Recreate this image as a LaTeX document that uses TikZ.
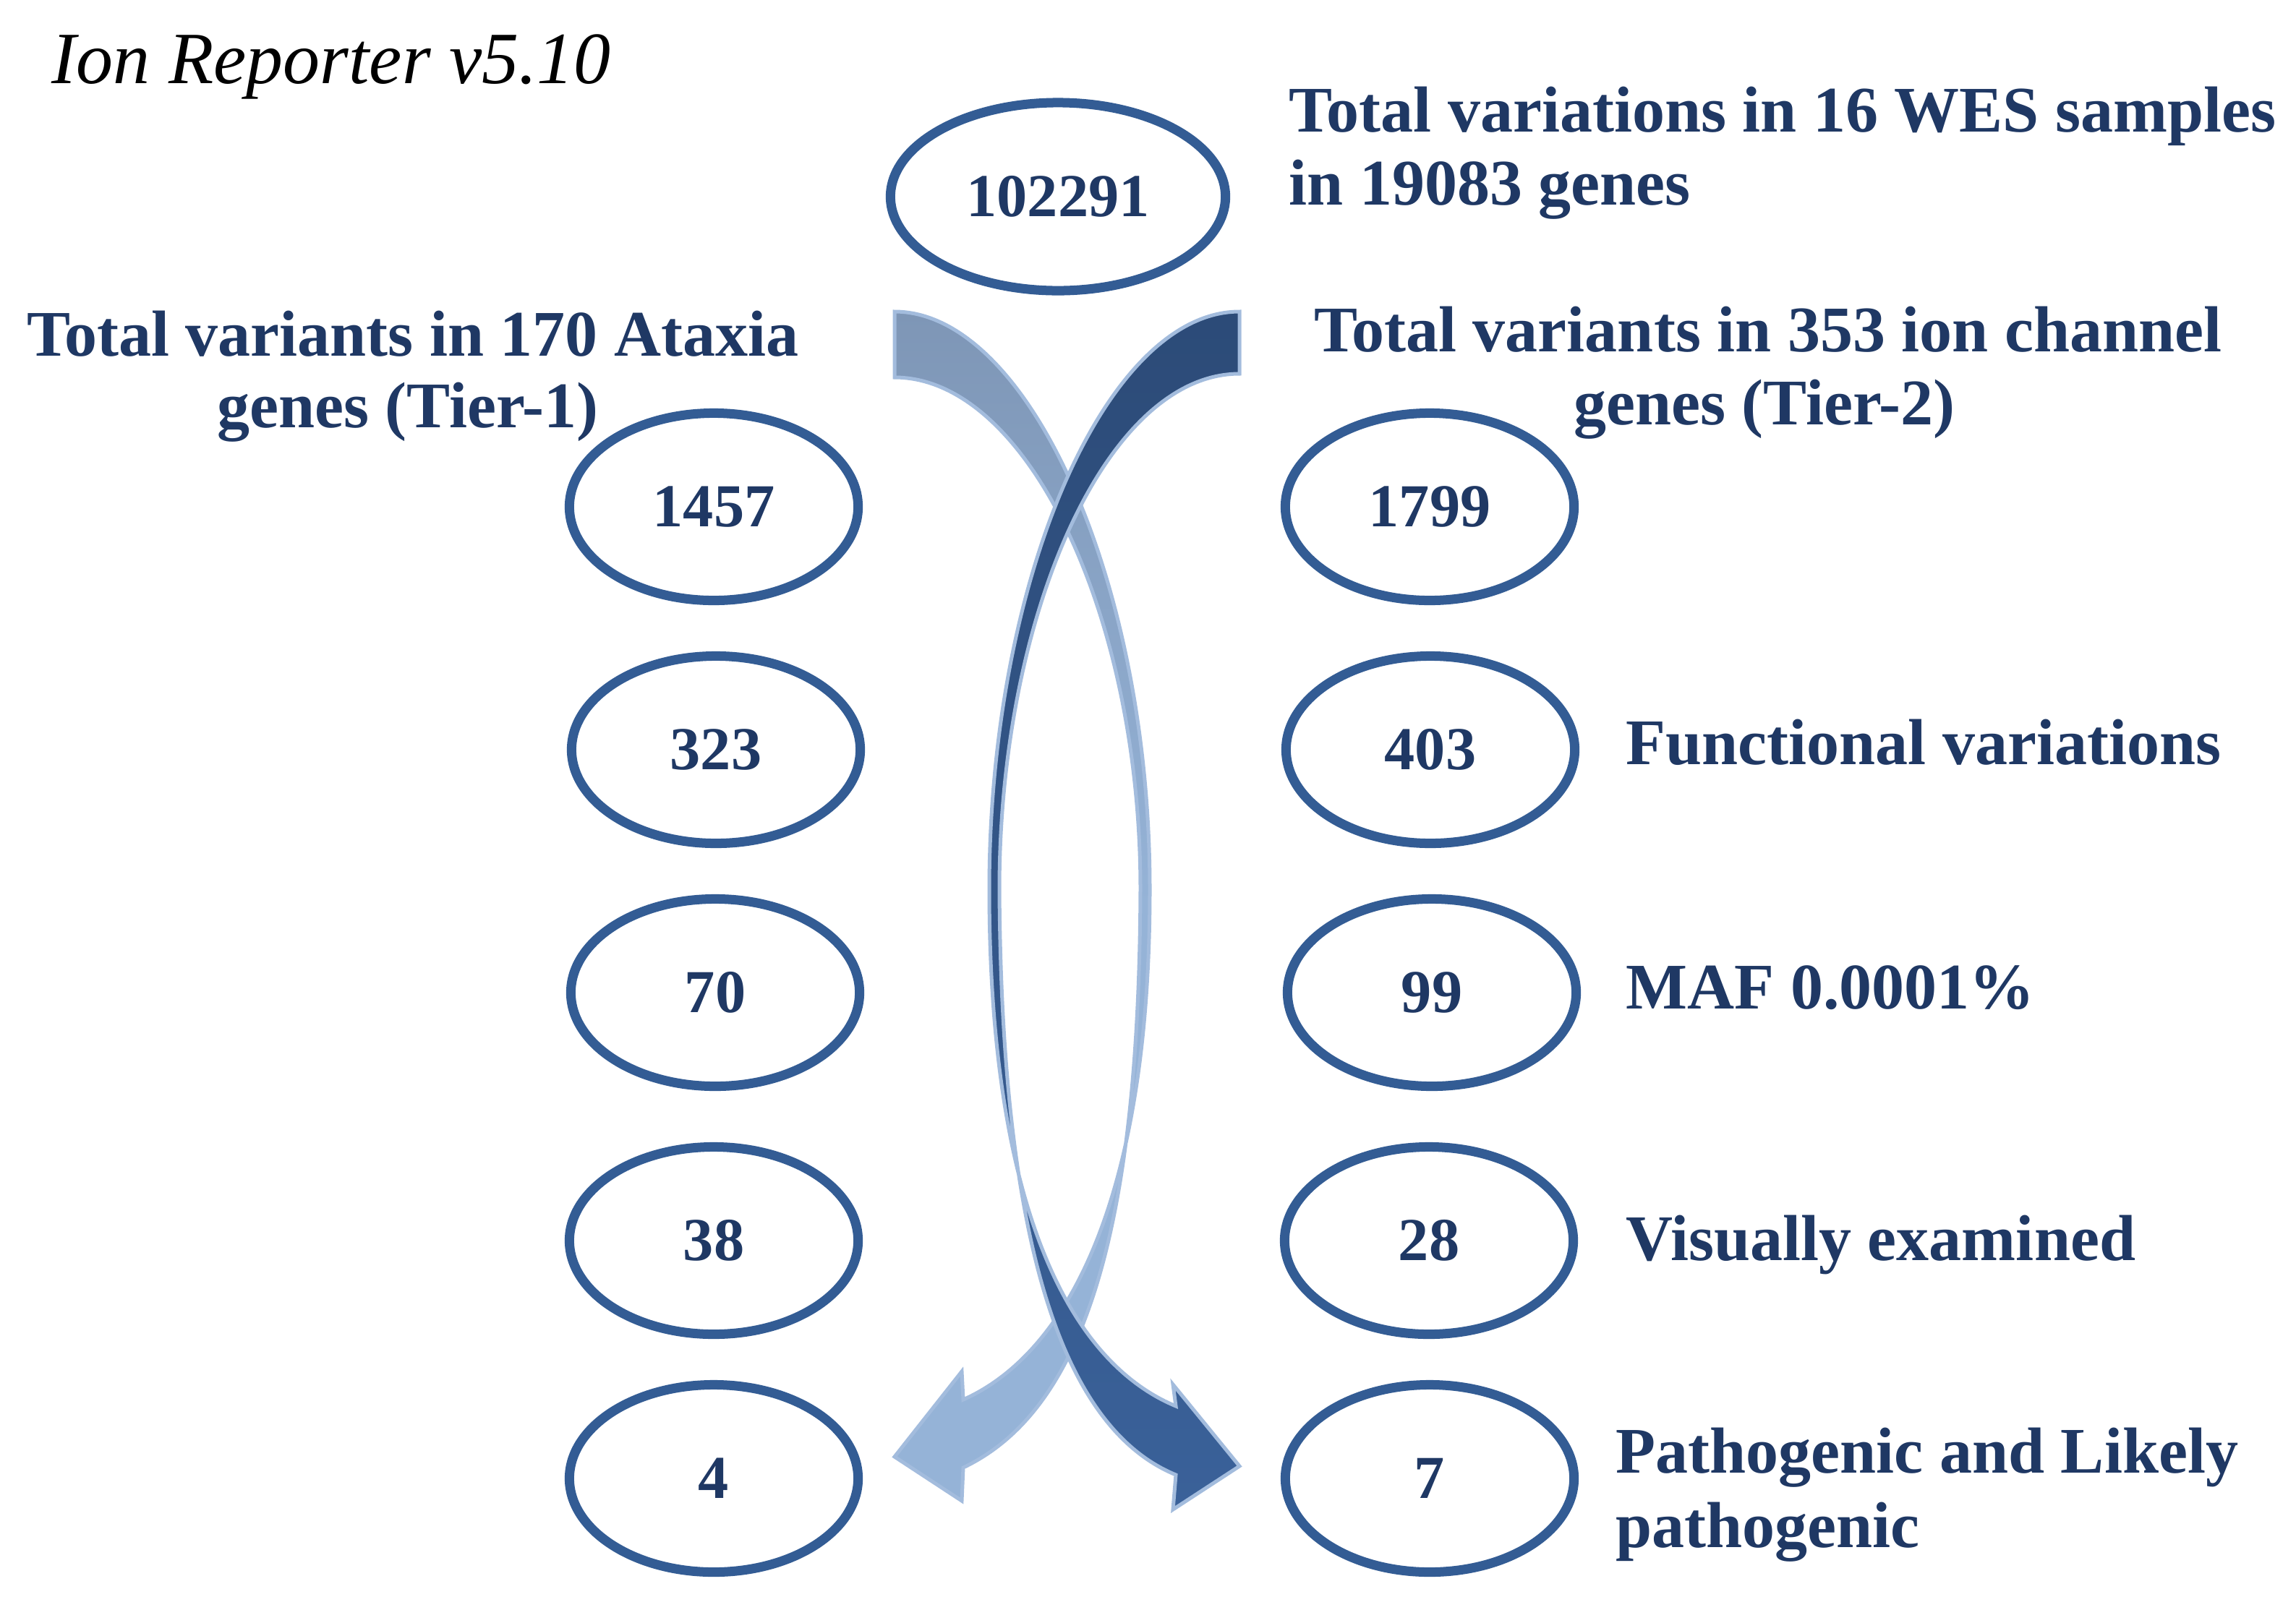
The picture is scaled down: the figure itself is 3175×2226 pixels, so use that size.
\documentclass[tikz,border=0pt]{standalone}
\usepackage{fontspec}
\setmainfont{Liberation Serif}
\usetikzlibrary{shapes.geometric}
\definecolor{ringblue}{HTML}{335C94}
\definecolor{navy}{HTML}{1F3864}
\definecolor{darkarrow}{HTML}{2C4B78}
\definecolor{darkarrowb}{HTML}{3A6199}
\definecolor{lightarrow}{HTML}{7E96B6}
\definecolor{lightarrowb}{HTML}{95B3D7}
\definecolor{arrowrim}{HTML}{A3BCDD}
\begin{document}
\begin{tikzpicture}[x=0.01cm,y=-0.01cm,
  num/.style={ellipse,draw=ringblue,line width=0.13cm,minimum width=3.99cm,minimum height=2.59cm,inner sep=0pt,font=\fontsize{24}{28}\selectfont\bfseries,text=navy},
  lbl/.style={font=\fontsize{25.6}{29}\selectfont\bfseries,text=navy,inner sep=0pt},
  ribbon/.style={draw=arrowrim,line width=0.05cm,line join=miter}]
\useasboundingbox (0,0) rectangle (3175,2226);
\fill[white] (0,0) rectangle (3175,2226);

% title
\node[anchor=base west,inner sep=0pt,font=\fontsize{29}{33}\selectfont\itshape] (title) at (71,115) {Ion Reporter v5.10};

% light arrow (top-left to bottom-left)
\shadedraw[ribbon,top color=lightarrow,bottom color=lightarrowb,middle color=lightarrowb]
  (1237,431) .. controls (1420,431) and (1590,800) .. (1590,1230)
  .. controls (1590,1650) and (1480,1870) .. (1332,1936)
  -- (1330,1897) -- (1237,2015) -- (1330,2076) -- (1332,2030)
  .. controls (1500,1950) and (1575,1700) .. (1577,1230)
  .. controls (1577,850) and (1420,522) .. (1237,522) -- cycle;

% dark arrow (top-right to bottom-right)
\shadedraw[ribbon,top color=darkarrow,bottom color=darkarrowb]
  (1714,431) .. controls (1530,431) and (1368,800) .. (1368,1230)
  .. controls (1368,1650) and (1470,1880) .. (1626,1945)
  -- (1622,1915) -- (1714,2028) -- (1622,2088) -- (1626,2040)
  .. controls (1480,1980) and (1385,1750) .. (1382,1230)
  .. controls (1382,850) and (1530,517) .. (1714,517) -- cycle;

% ellipses
\node[num,minimum width=4.63cm,minimum height=2.60cm] (top) at (1463,272) {102291};
\node[num] (l1) at (987,701) {1457};
\node[num] (l2) at (990,1037) {323};
\node[num] (l3) at (989,1373) {70};
\node[num] (l4) at (987,1716) {38};
\node[num] (l5) at (987,2045) {4};
\node[num] (r1) at (1977,701) {1799};
\node[num] (r2) at (1978,1037) {403};
\node[num] (r3) at (1980,1373) {99};
\node[num] (r4) at (1976,1716) {28};
\node[num] (r5) at (1977,2045) {7};

% labels
\node[lbl,anchor=base west] (t1a) at (1782,182) {Total variations in 16 WES samples};
\node[lbl,anchor=base west] (t1b) at (1782,283) {in 19083 genes};
\node[lbl,anchor=base] (t2a) at (571,492) {Total variants in 170 Ataxia};
\node[lbl,anchor=base] (t2b) at (564,591) {genes (Tier-1)};
\node[lbl,anchor=base] (t3a) at (2445,486) {Total variants in 353 ion channel};
\node[lbl,anchor=base] (t3b) at (2440,587) {genes (Tier-2)};
\node[lbl,anchor=base west] (f1) at (2248,1057) {Functional variations};
\node[lbl,anchor=base west] (f2) at (2248,1395) {MAF 0.0001\%};
\node[lbl,anchor=base west] (f3) at (2248,1743) {Visually examined};
\node[lbl,anchor=base west] (f4a) at (2234,2037) {Pathogenic and Likely};
\node[lbl,anchor=base west] (f4b) at (2234,2140) {pathogenic};
\end{tikzpicture}
\end{document}
